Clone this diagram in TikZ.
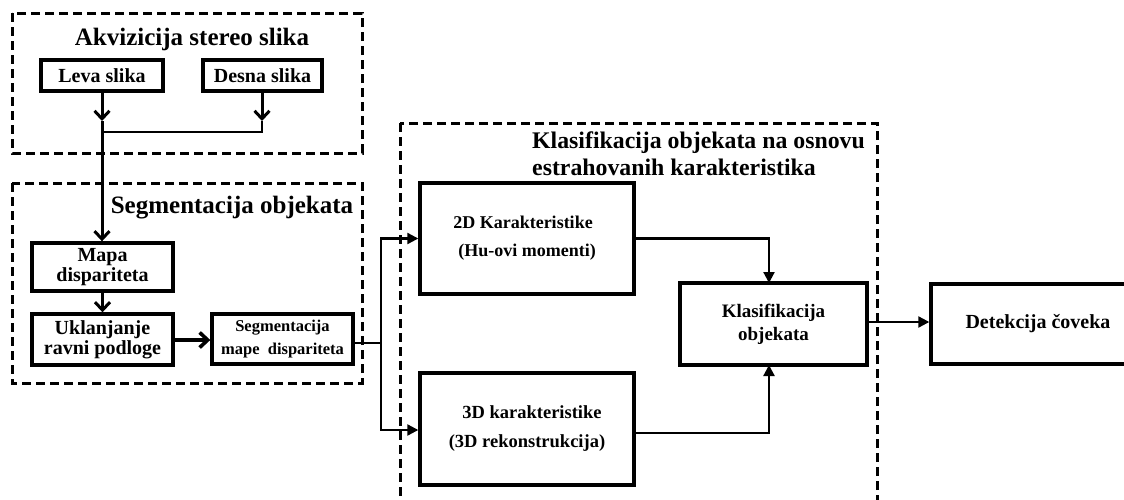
\documentclass[tikz,border=0pt]{standalone}
\usepackage{fontspec}
\setmainfont{Liberation Serif}
\usetikzlibrary{arrows.meta,calc}
\begin{document}
\begin{tikzpicture}[x=1pt,y=-1pt,
  box/.style={draw,line width=3.4pt,inner sep=0pt,align=center,font=\bfseries},
  dashbox/.style={draw,line width=3pt,dash pattern=on 9pt off 5pt},
  ttl/.style={font=\bfseries\fontsize{25}{27}\selectfont,inner sep=0pt},
  ttlb/.style={font=\bfseries\fontsize{23.8}{27}\selectfont,inner sep=0pt},
  thick2/.style={line width=3pt},
  thin2/.style={line width=2.2pt},
  chev/.style={-{Straight Barb[length=8pt,width=15pt]}},
  tri/.style={-{Triangle[length=11pt,width=11pt]}}]
\useasboundingbox (0,0) rectangle (1124,499);
\clip (0,0) rectangle (1124,499);
% frames
\draw[dashbox] (12,13) rectangle (362,153);
\draw[dashbox] (12,183) rectangle (362,383);
\draw[dashbox] (400,123) rectangle (877,530);
% titles
\node[ttl,anchor=base] (t1) at (192,45) {Akvizicija stereo slika};
\node[ttl,anchor=base] (t2) at (232,213) {Segmentacija objekata};
\node[ttlb,anchor=base west] (t3a) at (532,148) {Klasifikacija objekata na osnovu};
\node[ttlb,anchor=base west] (t3b) at (532,175) {estrahovanih karakteristika};
% boxes
\node[box,minimum width=122pt,minimum height=31pt,font=\bfseries\fontsize{20}{21}\selectfont] (leva) at (102,75.5) {Leva slika};
\node[box,minimum width=119pt,minimum height=31pt,font=\bfseries\fontsize{20}{21}\selectfont] (desna) at (262.5,75.5) {Desna slika};
\node[box,minimum width=141pt,minimum height=48pt,font=\bfseries\fontsize{20}{20.5}\selectfont] (mapa) at (102.5,267) {Mapa\\dispariteta};
\node[box,minimum width=141pt,minimum height=51pt,font=\bfseries\fontsize{20}{20}\selectfont] (ukl) at (102.5,339.5) {Uklanjanje\\ravni podloge};
\node[box,minimum width=141pt,minimum height=50pt,font=\bfseries\fontsize{16.5}{23}\selectfont] (segm) at (282.5,339) {Segmentacija\\mape~ dispariteta};
\node[box,minimum width=214pt,minimum height=111pt,font=\bfseries\fontsize{18}{28}\selectfont] (d2) at (527,238.5) {\hspace*{-8pt}2D Karakteristike\\(Hu-ovi momenti)};
\node[box,minimum width=214pt,minimum height=112pt,font=\bfseries\fontsize{18.5}{29}\selectfont] (d3) at (527,429) {\hspace*{10pt}3D karakteristike\\(3D rekonstrukcija)};
\node[box,minimum width=187pt,minimum height=82pt,font=\bfseries\fontsize{19}{23}\selectfont] (klas) at (773.5,324) {Klasifikacija\\objekata};
\node[box,minimum width=214pt,minimum height=80pt,font=\bfseries\fontsize{20}{21}\selectfont] (det) at (1038,324) {Detekcija čoveka};
% junction coordinates
\coordinate (c1) at (102,121);
\coordinate (c2) at (262,121);
\coordinate (c3) at (102,132);
\coordinate (s1) at (381,343);
\coordinate (k1) at (769,283);
\coordinate (k2) at (769,365);
% connectors
\draw[thick2,chev] (leva.south -| c1) -- (c1);
\draw[thick2,chev] (desna.south -| c2) -- (c2);
\draw[thin2] (c2) |- (c3);
\draw[thick2,chev] (c1) -- (mapa.north -| c1);
\draw[thick2,chev] (mapa.south) -- (ukl.north);
\draw[line width=3.6pt,chev] (ukl.east |- 0,340) -- (segm.west |- 0,340);
\draw[thin2] (segm.east |- s1) -- (s1);
\draw[thin2,tri] (s1) |- (d2.west);
\draw[thin2,tri] (s1) |- ($(d3.west)+(0,1)$);
\draw[thin2,tri] (d2.east) -| (k1);
\draw[thin2,tri] ($(d3.east)+(0,4)$) -| (k2);
\draw[thin2,tri] ($(klas.east)+(0,-2)$) -- ($(det.west)+(0,-2)$);
\end{tikzpicture}
\end{document}
